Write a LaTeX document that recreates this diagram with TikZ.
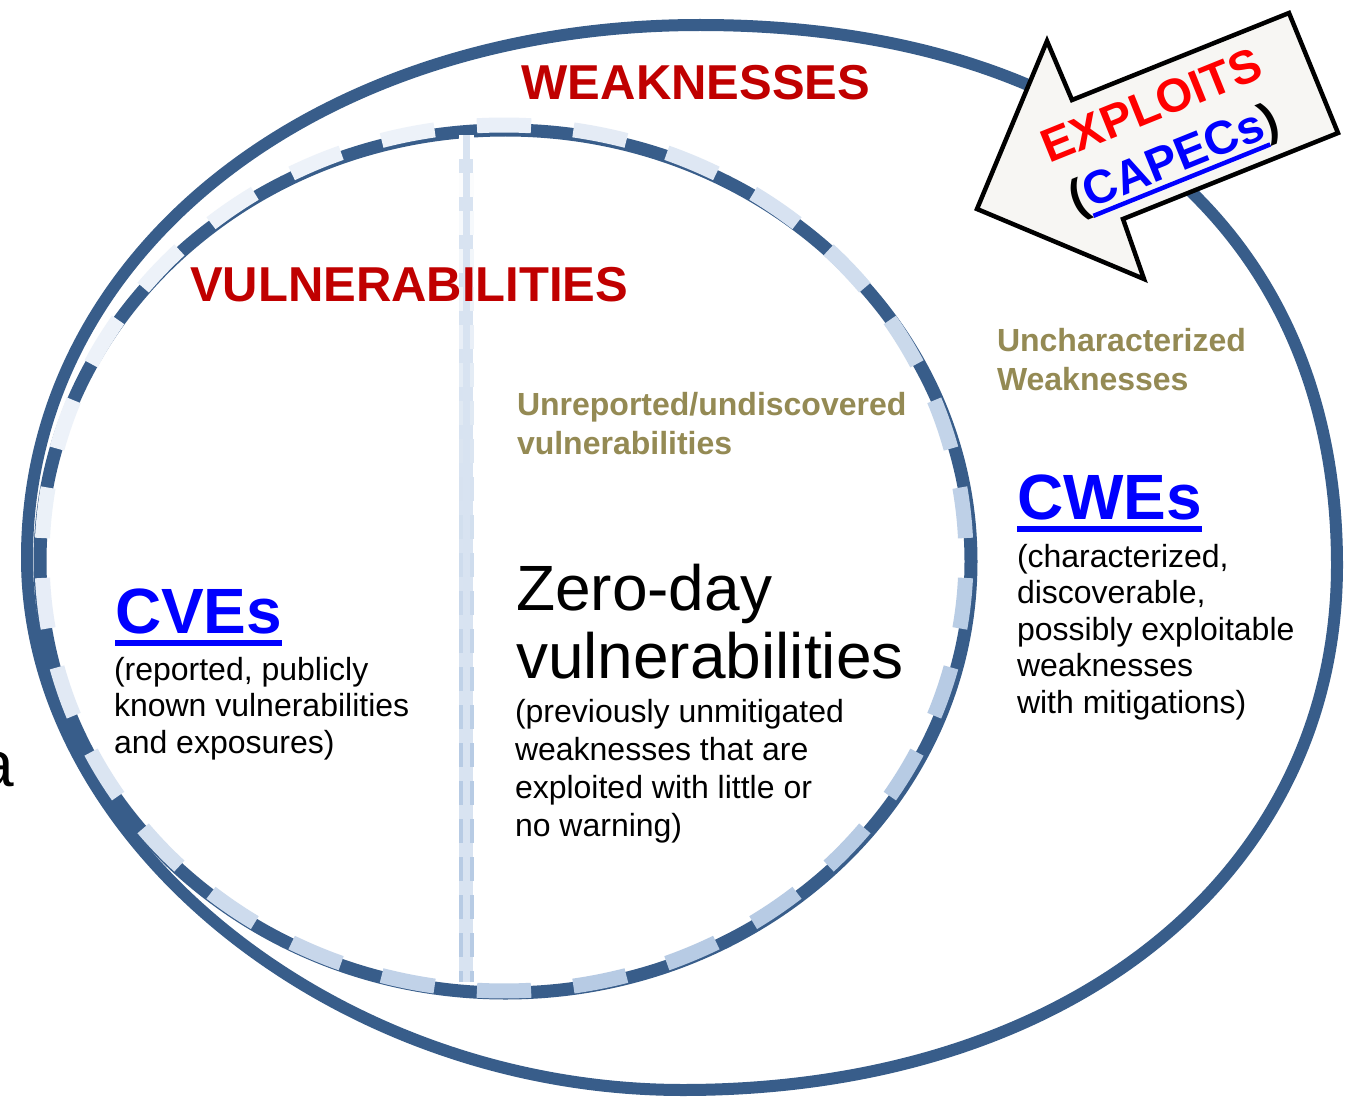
\documentclass[tikz,border=0pt]{standalone}
\usepackage{fontspec}
\setmainfont{Liberation Sans}
\usetikzlibrary{calc}

\definecolor{ringblue}{HTML}{385D8A}
\definecolor{dashlight}{HTML}{EDF2F9}
\definecolor{dashdeep}{HTML}{B7CBE4}
\definecolor{bandfill}{HTML}{D8E3F1}
\definecolor{titlered}{HTML}{C00000}
\definecolor{olivetext}{HTML}{948A54}
\definecolor{linkblue}{HTML}{0000FF}
\definecolor{exploitred}{HTML}{FF0000}
\definecolor{arrowfill}{HTML}{F7F6F3}

% underline drawn as a rule under the word, in the current colour
\newcommand\ulword[1]{\setbox0\hbox{#1}\rlap{\rule[-0.21em]{\wd0}{0.095em}}\box0}

% multi-line nodes are placed by the baseline of their last line
\tikzset{
  txt/.style={inner sep=0pt, outer sep=0pt, anchor=base west, align=left},
  heading/.style={txt, text=titlered, font=\fontsize{49}{59}\selectfont\bfseries},
  subhead/.style={txt, text=olivetext, font=\fontsize{32}{39}\selectfont\bfseries},
  bigword/.style={txt, text=linkblue, font=\fontsize{64}{70}\selectfont\bfseries},
  body/.style={txt, text=black, font=\fontsize{32}{36.5}\selectfont},
}

\begin{document}
\begin{tikzpicture}[x=1pt,y=-1pt]
\useasboundingbox (0,0) rectangle (1345,1097);
\clip (0,0) rectangle (1345,1097);
\fill[white] (0,0) rectangle (1345,1097);

% fragments of neighbouring text at the left edge
\node[txt, anchor=base east, font=\fontsize{64}{70}\selectfont] (edgeA) at (4,73) {n};
\node[txt, anchor=base east, font=\fontsize{64}{70}\selectfont] (edgeB) at (14,786) {a};

% weaknesses: outer ring
\draw[ringblue, line width=12]
  (27,558) .. controls (27,252) and (317,25) .. (700,25)
  .. controls (1095,25) and (1337,230) .. (1337,565)
  .. controls (1337,875) and (1069,1090) .. (683,1090)
  .. controls (335,1090) and (27,840) .. (27,558) -- cycle;

% vulnerabilities: inner ring
\draw[ringblue, line width=13] (505.5,561.5) ellipse [x radius=465.5, y radius=431.5];
\foreach \i in {0,...,29}{
  \pgfmathsetmacro\a{90+12*\i-3.36}
  \pgfmathsetmacro\b{90+12*\i+3.36}
  \pgfmathsetmacro\m{90+12*\i}
  % shade from pale (upper left) to blue (lower right)
  \pgfmathtruncatemacro\p{max(0,min(100,50+60*(0.707*cos(\m)+0.707*sin(\m))))}
  \draw[dashdeep!\p!dashlight, line width=15]
    ($(504,558)+({462*cos(\a)},{433*sin(\a)})$)
    arc[start angle=\a, end angle=\b, x radius=462, y radius=433];
}

% divider between known and unknown vulnerabilities
\fill[bandfill] (459,135) rectangle (473,982);
\foreach \j in {0,...,22}{
  \pgfmathsetmacro\ya{135+38*\j}
  \pgfmathsetmacro\yb{min(982,\ya+24)}
  \pgfmathtruncatemacro\q{min(100,100*\j/16)}
  \draw[dashdeep!\q!white, line width=4] (461,\ya) -- (461,\yb);
  \draw[dashdeep!\q!white, line width=4] (471.5,\ya) -- (471.5,\yb);
}

% exploits arrow
\draw[black, line width=4.5, fill=arrowfill, line join=miter]
  (977,209) -- (1047,41) -- (1072,100) -- (1289,13) -- (1338,133)
  -- (1123,219) -- (1144,279) -- cycle;
\node[inner sep=0pt, align=center, rotate=22,
      font=\fontsize{47}{57}\selectfont\bfseries] (exploits) at (1164,136)
  {\textcolor{exploitred}{EXPLOITS}\\(\textcolor{linkblue}{\ulword{CAPECs}})};

% headings
\node[heading] (weak) at (521.7,100) {WEAKNESSES};
\node[heading] (vuln) at (190,301) {VULNERABILITIES};

\node[subhead] (unrep) at (517,454) {Unreported/undiscovered\\vulnerabilities};
\node[subhead] (unchar) at (997,390) {Uncharacterized\\Weaknesses};

% CWE block
\node[bigword] (cwe) at (1017,519) {\ulword{CWEs}};
\node[body] (cwetxt) at (1017,713) {(characterized,\\discoverable,\\possibly exploitable\\weaknesses\\with mitigations)};

% CVE block
\node[bigword] (cve) at (115,633) {\ulword{CVEs}};
\node[body] (cvetxt) at (114,753) {(reported, publicly\\known vulnerabilities\\and exposures)};

% zero-day block
\node[txt, font=\fontsize{64}{68.3}\selectfont] (zero) at (516,678.3) {Zero-day\\vulnerabilities};
\node[txt, font=\fontsize{32}{38}\selectfont] (zerotxt) at (515,836.7) {(previously unmitigated\\weaknesses that are\\exploited with little or\\no warning)};
\end{tikzpicture}
\end{document}
